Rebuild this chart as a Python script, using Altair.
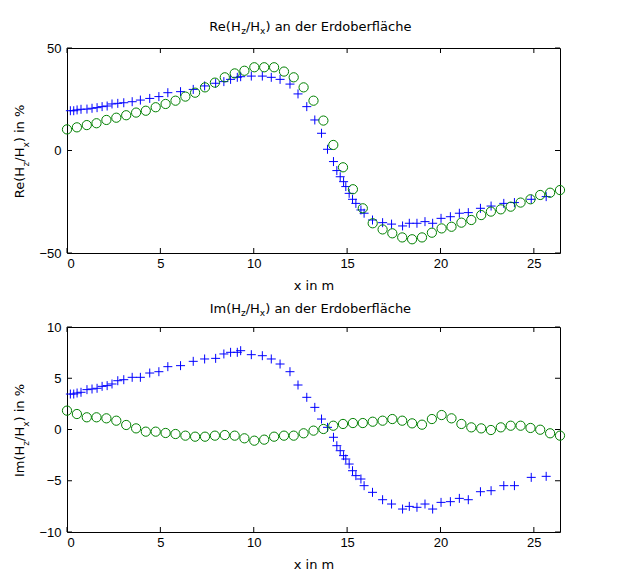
import altair as alt
import pandas as pd

W, H = 493, 205

# ---- data ----
cross_x = [0.18, 0.36, 0.54, 0.75, 1.07, 1.34, 1.61, 1.88, 2.15, 2.41, 2.72, 3.04, 3.49, 3.93,
           4.43, 4.92, 5.40, 6.08, 6.76, 7.37, 7.96, 8.40, 8.76, 9.12, 9.30, 9.87, 10.46, 10.94,
           11.41, 11.94, 12.37, 12.84, 13.27, 13.63, 13.95,
           14.27, 14.45, 14.63, 14.81, 14.93, 15.11, 15.29, 15.47, 15.74, 15.91, 16.36, 16.90,
           17.38, 17.97, 18.33, 18.74, 19.17, 19.58, 20.03, 20.53, 21.01, 21.49, 22.14, 22.71,
           23.39, 23.96, 24.86, 25.66]
re_cross = [19.4, 19.4, 19.8, 20.1, 20.2, 20.6, 20.9, 21.4, 21.7, 22.7, 23.0, 23.3, 23.8, 24.6,
            25.4, 26.3, 28.2, 28.7, 29.8, 31.5, 32.8, 33.6, 34.7, 35.7, 36.0, 36.3, 36.3, 35.7,
            34.7, 32.4, 27.6, 21.4, 14.9, 8.4, 0.6,
            -5.4, -9.8, -12.8, -15.2, -17.6, -20.9, -23.8, -25.8, -29.0, -30.6, -33.9, -35.2,
            -35.9, -36.8, -35.5, -35.5, -34.7, -35.5, -33.1, -32.3, -30.6, -30.3, -28.2, -27.1,
            -25.8, -25.4, -23.8, -22.5]
im_cross = [3.46, 3.46, 3.56, 3.63, 3.89, 3.95, 4.02, 4.21, 4.28, 4.44, 4.76, 4.86, 5.09, 5.09,
            5.51, 5.64, 6.13, 6.23, 6.65, 6.88, 6.94, 7.37, 7.53, 7.53, 7.69, 7.30, 7.20, 6.88,
            6.39, 5.64, 4.34, 3.14, 2.16, 1.02, 0.21,
            -0.76, -1.58, -2.07, -2.55, -2.88, -3.37, -4.02, -4.50, -4.83, -5.48, -6.13, -6.85,
            -7.27, -7.76, -7.50, -7.59, -7.27, -7.76, -7.11, -7.04, -6.72, -6.85, -6.07, -5.97,
            -5.48, -5.48, -4.67, -4.57]

circ_x = [0.00, 0.53, 1.06, 1.58, 2.11, 2.64, 3.17, 3.70, 4.22, 4.75, 5.28, 5.81, 6.34, 6.86,
          7.39, 7.92, 8.45, 8.98, 9.50, 10.03, 10.56, 11.09, 11.62, 12.14, 12.67, 13.20, 13.73,
          14.26, 14.78, 15.31, 15.84, 16.37, 16.90, 17.42, 17.95, 18.48, 19.01, 19.54, 20.06,
          20.59, 21.12, 21.65, 22.18, 22.70, 23.23, 23.76, 24.29, 24.82, 25.34, 25.87, 26.40]
re_circ = [10.3, 11.3, 12.4, 13.3, 14.9, 16.0, 17.2, 18.5, 19.4, 21.1, 22.7, 24.3, 26.3, 28.2,
           30.8, 33.1, 35.7, 37.6, 38.9, 40.6, 40.6, 40.6, 38.5, 35.7, 30.8, 24.3, 14.6, 2.7,
           -8.2, -18.9, -28.2, -35.5, -38.5, -40.4, -42.4, -43.3, -42.4, -40.1, -38.0, -37.2,
           -35.2, -33.9, -31.5, -29.8, -28.7, -27.4, -25.4, -23.8, -21.7, -20.6, -19.3]
im_circ = [1.84, 1.51, 1.19, 1.19, 1.09, 0.86, 0.44, 0.11, -0.21, -0.21, -0.34, -0.44, -0.60,
           -0.70, -0.70, -0.60, -0.54, -0.60, -0.86, -1.09, -0.99, -0.70, -0.60, -0.60, -0.37,
           -0.11, 0.05, 0.37, 0.54, 0.63, 0.63, 0.76, 0.86, 1.02, 0.86, 0.60, 0.47, 1.02, 1.41,
           1.09, 0.54, 0.21, 0.11, -0.05, 0.21, 0.37, 0.37, 0.15, -0.02, -0.37, -0.60]

x_ticks = [0, 5, 10, 15, 20, 25]
re_ticks = [-50, 0, 50]
im_ticks = [-10, -5, 0, 5, 10]
x_domain = [0, 26.4]

# ---- text layout helpers (DejaVu Sans advance widths, em units) ----
DV = {" ": .318, "(": .390, ")": .390, "/": .337, "%": .950, "R": .695, "I": .295, "H": .752,
      "E": .632, "a": .613, "b": .635, "c": .550, "d": .635, "e": .615, "f": .352, "h": .634,
      "i": .278, "l": .278, "m": .974, "n": .634, "o": .612, "r": .411, "x": .592, "z": .525,
      "ä": .613}
FONT = "DejaVu Sans"
FS, SFS = 13, 9


def tw(s, fs):
    return sum(DV.get(c, 0.6) for c in s) * fs


def rich_text(parts, center, base, shift, angle=0):
    total = sum(tw(t, SFS if sub else FS) for t, sub in parts)
    pos = -total / 2
    layers = []
    for t, sub in parts:
        size = SFS if sub else FS
        if angle == 0:
            xv, yv = center + pos, base + (shift if sub else 0)
        else:
            xv, yv = base + (shift if sub else 0), center - pos
        layers.append(
            alt.Chart(pd.DataFrame({"t": [t]}))
            .mark_text(align="left", baseline="alphabetic", font=FONT, fontSize=size,
                       angle=angle, color="black")
            .encode(x=alt.value(xv), y=alt.value(yv), text="t:N")
        )
        pos += tw(t, size)
    return layers


def panel(yvals_cross, yvals_circ, ydom, yticks, prefix, title_base):
    xs = alt.Scale(domain=x_domain, nice=False, zero=False)
    ys = alt.Scale(domain=ydom, nice=False, zero=False)
    xaxis = alt.Axis(values=x_ticks, title="x in m", format="d")
    yaxis = alt.Axis(values=yticks, title=None, format="d")
    X = alt.X("x:Q", scale=xs, axis=xaxis)
    Y = alt.Y("y:Q", scale=ys, axis=yaxis)

    dc = pd.DataFrame({"x": cross_x, "y": yvals_cross})
    do = pd.DataFrame({"x": circ_x, "y": yvals_circ})
    crosses = alt.Chart(dc).mark_point(shape="M-1,0L1,0M0,-1L0,1", size=81, filled=False,
                                       color="#0000ff", strokeWidth=1, opacity=1).encode(x=X, y=Y)
    circles = alt.Chart(do).mark_point(shape="circle", size=85, filled=False,
                                       color="#008000", strokeWidth=1, opacity=1).encode(x=X, y=Y)

    dxt = pd.DataFrame({"x": x_ticks})
    dyt = pd.DataFrame({"y": yticks})
    tk = dict(color="black", strokeWidth=1)
    t_bottom = alt.Chart(dxt).mark_rule(**tk).encode(x=X, y=alt.value(H), y2=alt.value(H - 5))
    t_top = alt.Chart(dxt).mark_rule(**tk).encode(x=X, y=alt.value(0), y2=alt.value(5))
    t_left = alt.Chart(dyt).mark_rule(**tk).encode(y=Y, x=alt.value(0), x2=alt.value(5))
    t_right = alt.Chart(dyt).mark_rule(**tk).encode(y=Y, x=alt.value(W - 5), x2=alt.value(W))

    title_parts = [(prefix + "(H", False), ("z", True), ("/H", False), ("x", True),
                   (") an der Erdoberfläche", False)]
    label_parts = [(prefix + "(H", False), ("z", True), ("/H", False), ("x", True),
                   (") in %", False)]
    texts = rich_text(title_parts, 243.5, title_base, 2.5) + \
        rich_text(label_parts, 103.5, -43.5, 5, angle=270)

    return alt.layer(crosses, circles, t_bottom, t_top, t_left, t_right, *texts).properties(
        width=W, height=H)


top = panel(re_cross, re_circ, [-50, 50], re_ticks, "Re", -17)
bottom = panel(im_cross, im_circ, [-10, 10], im_ticks, "Im", -14)

chart = alt.vconcat(top, bottom, spacing=9).properties(
    padding={"left": 4, "top": 12, "right": 5, "bottom": 5}, background="white"
).configure_view(stroke="black", strokeWidth=1).configure_axis(
    grid=False, ticks=False, tickSize=0, domain=False,
    labelFont="Liberation Sans", labelFontSize=13, labelColor="black",
    titleFont=FONT, titleFontSize=13, titleFontWeight="normal", titleColor="black",
).configure_axisX(labelPadding=4, titlePadding=9).configure_axisY(labelPadding=6)

chart.save("out.html", embed_options={"renderer": "svg", "actions": False})
